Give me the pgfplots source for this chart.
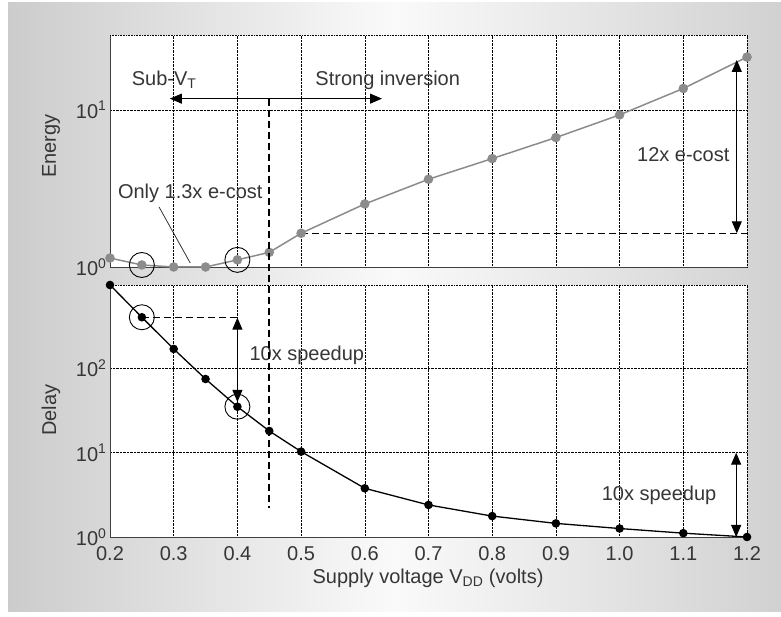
\documentclass[border=0pt]{standalone}
\usepackage{fontspec}
\setmainfont{Liberation Sans}
\usepackage{pgfplots}
\pgfplotsset{compat=1.18}
\usetikzlibrary{arrows.meta}

\definecolor{egray}{HTML}{8C8C8C}
\definecolor{txt}{HTML}{363636}

\pgfplotstableread{
v     energy
0.20  1.14
0.25  1.03
0.30  1.00
0.35  1.00
0.40  1.11
0.45  1.24
0.50  1.64
0.60  2.52
0.70  3.62
0.80  4.90
0.90  6.67
1.00  9.30
1.10  13.7
1.20  21.7
}\energytable

\pgfplotstableread{
v     delay
0.20  975
0.25  404
0.30  170
0.35  74.8
0.40  35.1
0.45  18.1
0.50  10.3
0.60  3.78
0.70  2.40
0.80  1.77
0.90  1.45
1.00  1.26
1.10  1.11
1.20  1.00
}\delaytable

\tikzset{
  ann/.style={font=\fontsize{20}{22}\selectfont, text=txt},
  dbl/.style={line width=1pt, {Triangle[length=12pt,width=10pt]}-{Triangle[length=12pt,width=10pt]}},
  thindash/.style={line width=0.9pt, dash pattern=on 7pt off 4pt},
}

\begin{document}
\begin{tikzpicture}
\useasboundingbox (0pt,0pt) rectangle (781pt,617pt);
\fill[white] (0pt,0pt) rectangle (781pt,617pt);
\shade[left color=black!20, right color=black!18, middle color=black!2] (8pt,5pt) rectangle (781pt,614pt);

% Energy panel
\begin{axis}[
  scale only axis, width=637pt, height=232pt,
  at={(110pt,350pt)}, anchor=south west,
  xmin=0.2, xmax=1.2, ymode=log, ymin=1, ymax=30,
  clip=false,
  axis background/.style={fill=white},
  axis x line*=bottom, axis y line*=left,
  axis line style={black!75, line width=0.9pt},
  grid=major, major grid style={black, densely dotted, line width=0.6pt},
  xtick={0.2,0.3,0.4,0.5,0.6,0.7,0.8,0.9,1.0,1.1,1.2},
  xticklabels={},
  ytick={1,10},
  yticklabels={10\textsuperscript{0},10\textsuperscript{1}},
  major tick length=0pt, minor tick length=0pt,
  tick label style={font=\fontsize{20}{22}\selectfont, text=txt},
]
  \draw[black, densely dotted, line width=0.6pt] (rel axis cs:0,1) -- (rel axis cs:1,1);
  \addplot[egray, line width=1.5pt, mark=*, mark size=4pt, mark options={fill=egray, draw=egray}]
    table[x=v, y=energy] {\energytable};
  \addplot[only marks, mark=o, mark size=12.5pt, mark options={black, line width=0.9pt}]
    coordinates {(0.25,1.03) (0.40,1.11)};
  \draw[thindash] (axis cs:0.5,1.64) -- (axis cs:1.2,1.64);
  \draw[dbl] (axis cs:1.184,1.64) -- (axis cs:1.184,20.8);
  \node[ann] at (axis cs:1.10,5.17) {12x e-cost};
  \draw[dbl] (axis cs:0.294,11.8) -- (axis cs:0.627,11.8);
  \node[ann] at (axis cs:0.285,15.5) {Sub-V\textsubscript{T}};
  \node[ann] at (axis cs:0.636,15.5) {Strong inversion};
  \node[ann] at (axis cs:0.326,2.96) {Only 1.3x e-cost};
  \draw[black!80, line width=0.8pt] (axis cs:0.277,2.41) -- (axis cs:0.326,1.06);
  \coordinate (vtop) at (axis cs:0.45,11.8);
\end{axis}

% Delay panel
\begin{axis}[
  scale only axis, width=637pt, height=252pt,
  at={(110pt,80pt)}, anchor=south west,
  xmin=0.2, xmax=1.2, ymode=log, ymin=1, ymax=975,
  clip=false,
  axis background/.style={fill=white},
  axis x line*=bottom, axis y line*=left,
  axis line style={black!75, line width=0.9pt},
  grid=major, major grid style={black, densely dotted, line width=0.6pt},
  xtick={0.2,0.3,0.4,0.5,0.6,0.7,0.8,0.9,1.0,1.1,1.2},
  xticklabels={0.2,0.3,0.4,0.5,0.6,0.7,0.8,0.9,1.0,1.1,1.2},
  xticklabel style={yshift=-6pt},
  ytick={1,10,100},
  yticklabels={10\textsuperscript{0},10\textsuperscript{1},10\textsuperscript{2}},
  major tick length=0pt, minor tick length=0pt,
  tick label style={font=\fontsize{20}{22}\selectfont, text=txt},
]
  \draw[black, densely dotted, line width=0.6pt] (rel axis cs:0,1) -- (rel axis cs:1,1);
  \addplot[black, line width=1.3pt, mark=*, mark size=3.6pt]
    table[x=v, y=delay] {\delaytable};
  \addplot[only marks, mark=o, mark size=12.5pt, mark options={black, line width=0.9pt}]
    coordinates {(0.25,404) (0.40,35.1)};
  \draw[thindash] (axis cs:0.25,404) -- (axis cs:0.4,404);
  \draw[dbl] (axis cs:0.4,40) -- (axis cs:0.4,400);
  \node[ann] at (axis cs:0.509,144) {10x speedup};
  \draw[dbl] (axis cs:1.183,1) -- (axis cs:1.183,10);
  \node[ann] at (axis cs:1.062,3.15) {10x speedup};
  \coordinate (vbot) at (axis cs:0.45,2.2);
\end{axis}

% threshold marker spanning both panels
\draw[black, line width=2.2pt, dash pattern=on 7pt off 4pt] (vtop) -- (vbot);

\node[ann, rotate=90] at (51pt,471pt) {Energy};
\node[ann, rotate=90] at (51pt,207pt) {Delay};
\node[ann] at (428pt,39pt) {Supply voltage V\textsubscript{DD} (volts)};
\end{tikzpicture}
\end{document}
